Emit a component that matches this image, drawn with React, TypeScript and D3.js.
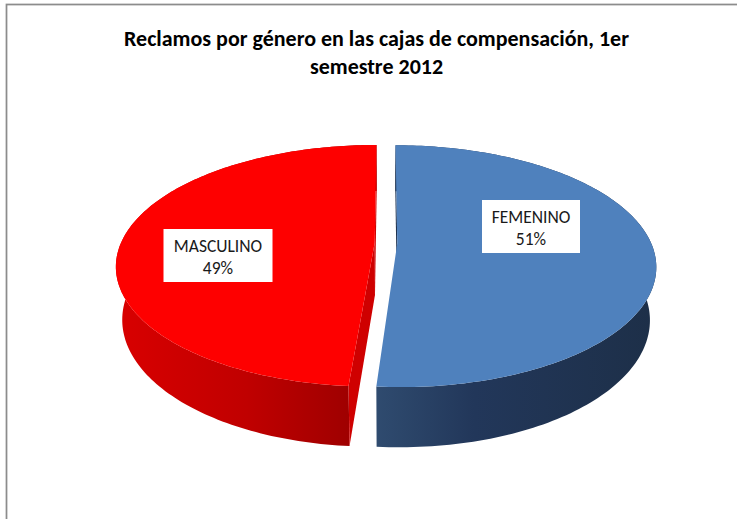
import React from "react";
import * as d3 from "d3";

// ---- data ----
const categories = ["FEMENINO", "MASCULINO"];
const values = [51.2, 48.8];
const titleLines = [
  "Reclamos por género en las cajas de compensación, 1er",
  "semestre 2012",
];

// ---- layout / style ----
const W = 737;
const H = 519;
const S = 253.8;
const CX = 386;
const CY = 243;
const SIN_A = 0.459;
const COS_A = Math.sqrt(1 - SIN_A * SIN_A);
const K = 0.19;
const D = COS_A / K;
const THICK = 0.237;
const EXPLODE = 0.0445;
const FONT = "Carlito, Calibri, Lato, 'Open Sans', sans-serif";

const topColors = ["#4f81bd", "#fe0000"];
const cutColors = ["#1f3350", "#cf0000"];
const wallStops = [
  [
    [0, "#2f4b6f"],
    [0.35, "#22375a"],
    [1, "#1d2f48"],
  ],
  [
    [0, "#d90000"],
    [0.5, "#c00000"],
    [1, "#960000"],
  ],
];
const labelCenters = [
  [531, 226],
  [218, 255],
];

function project(x: number, y: number, z: number): [number, number] {
  const u = y * COS_A - z * SIN_A;
  const w = y * SIN_A + z * COS_A;
  const sc = D / (D - w);
  return [CX + S * x * sc, CY - S * u * sc];
}

const camera = [0, D * SIN_A, D * COS_A];

export default function App() {
  const arcs = d3
    .pie<number>()
    .sort(null)
    .startAngle(0)
    .endAngle(2 * Math.PI)(values);
  const line = d3.line<[number, number]>().x((p) => p[0]).y((p) => p[1]);
  const total = d3.sum(values);

  const slices = arcs.map((a, i) => {
    const mid = (a.startAngle + a.endAngle) / 2;
    const ox = EXPLODE * Math.sin(mid);
    const oz = -EXPLODE * Math.cos(mid);
    const pt = (t: number, r: number, y: number) =>
      project(ox + r * Math.sin(t), y, oz - r * Math.cos(t));
    const n = 160;
    const ts = d3.range(n + 1).map((k) => a.startAngle + ((a.endAngle - a.startAngle) * k) / n);
    const topArc = ts.map((t) => pt(t, 1, 0));
    const botArc = ts.map((t) => pt(t, 1, -THICK)).reverse();
    const top = line([pt(0, 0, 0), ...topArc]) + "Z";
    const wall = line([...topArc, ...botArc]) + "Z";
    const xs = [...topArc, ...botArc].map((p) => p[0]);
    const gx1 = d3.min(xs) as number;
    const gx2 = d3.max(xs) as number;
    const cuts: string[] = [];
    const faces = [
      { t: a.startAngle, sign: -1 },
      { t: a.endAngle, sign: 1 },
    ];
    faces.forEach((f) => {
      const nx = f.sign * Math.cos(f.t);
      const nz = f.sign * Math.sin(f.t);
      const dot = nx * (camera[0] - ox) + nz * (camera[2] - oz);
      if (dot > 0) {
        cuts.push(
          line([pt(f.t, 0, 0), pt(f.t, 1, 0), pt(f.t, 1, -THICK), pt(f.t, 0, -THICK)]) + "Z"
        );
      }
    });
    return { i, top, wall, cuts, gx1, gx2, value: a.data };
  });

  return (
    <svg
      width={W}
      height={H}
      style={{ position: "absolute", left: 0, top: 0, background: "#fff" }}
    >
      <defs>
        {slices.map((s) => (
          <linearGradient
            key={s.i}
            id={`wall${s.i}`}
            gradientUnits="userSpaceOnUse"
            x1={s.gx1}
            x2={s.gx2}
            y1={0}
            y2={0}
          >
            {wallStops[s.i].map(([o, c], k) => (
              <stop key={k} offset={o as number} stopColor={c as string} />
            ))}
          </linearGradient>
        ))}
      </defs>
      <rect x={6.5} y={4.5} width={W + 20} height={H + 20} fill="#fff" stroke="#8c8c8c" strokeWidth={1.75} />
      <g fontFamily={FONT} fontWeight="bold" fontSize={22} textAnchor="middle" fill="#000">
        {titleLines.map((t, k) => (
          <text key={k} x={376.5} y={45.5 + k * 28}>
            {t}
          </text>
        ))}
      </g>
      {slices.map((s) => (
        <path key={"w" + s.i} d={s.wall} fill={`url(#wall${s.i})`} />
      ))}
      {slices.map((s) =>
        s.cuts.map((c, k) => <path key={"c" + s.i + k} d={c} fill={cutColors[s.i]} />)
      )}
      {slices.map((s) => (
        <path key={"t" + s.i} d={s.top} fill={topColors[s.i]} />
      ))}
      {slices.map((s) => {
        const [lx, ly] = labelCenters[s.i];
        const bw = s.i === 0 ? 98 : 109;
        return (
          <g key={"l" + s.i} fontFamily={FONT} fontSize={17.5} textAnchor="middle" fill="#1a1a1a">
            <rect x={lx - bw / 2} y={ly - 26} width={bw} height={53} fill="#fff" />
            <text x={lx} y={ly - 3}>{categories[s.i]}</text>
            <text x={lx} y={ly + 19}>{Math.round((s.value / total) * 100)}%</text>
          </g>
        );
      })}
    </svg>
  );
}
